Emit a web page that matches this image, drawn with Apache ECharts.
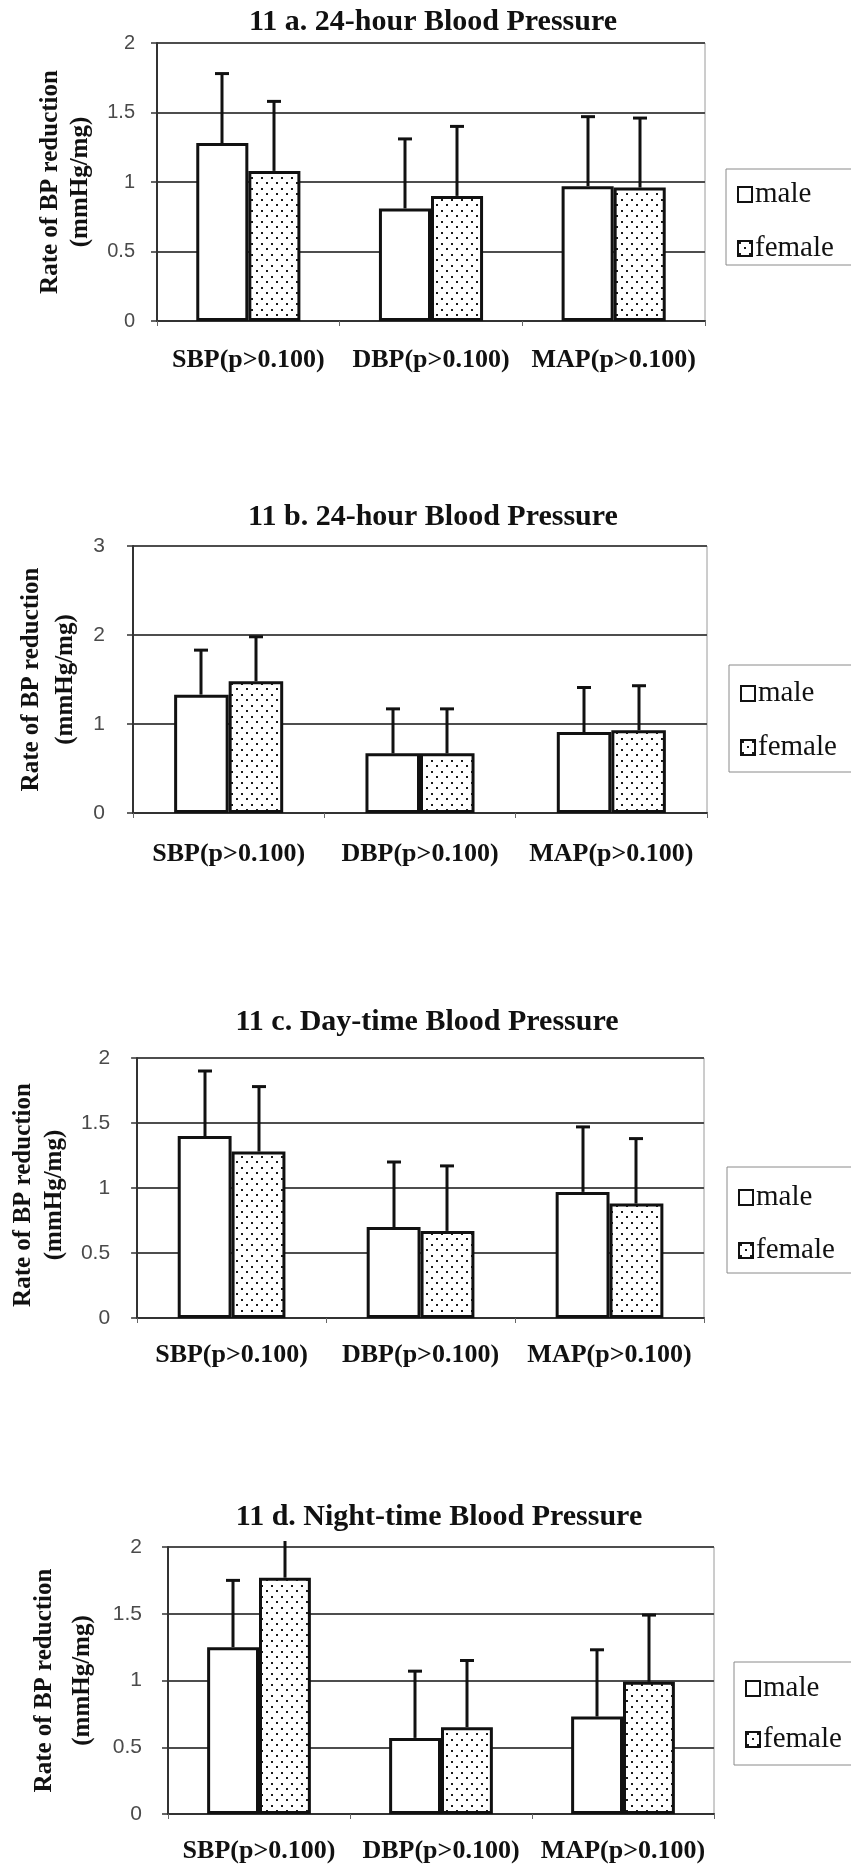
<!DOCTYPE html>
<html>
<head>
<meta charset="utf-8">
<script src="https://cdn.jsdelivr.net/npm/echarts@6/dist/echarts.min.js"></script>
<style>
  html, body { margin: 0; padding: 0; background: #fff; }
  #chart { width: 851px; height: 1865px; }
</style>
</head>
<body>
<div id="chart"></div>
<script>
// ---- data ----
const categories = ['SBP(p>0.100)', 'DBP(p>0.100)', 'MAP(p>0.100)'];
const groups = ['male', 'female'];
const panelTitles = [
  '11 a. 24-hour Blood Pressure',
  '11 b. 24-hour Blood Pressure',
  '11 c. Day-time Blood Pressure',
  '11 d. Night-time Blood Pressure'
];
const yAxisTitle = 'Rate of BP reduction\n(mmHg/mg)';

// 11 a. 24-hour
const maleA = [1.28, 0.81, 0.97];
const femaleA = [1.08, 0.90, 0.96];
const maleErrA = [0.5, 0.5, 0.5];
const femaleErrA = [0.5, 0.5, 0.5];
const yTicksA = [0, 0.5, 1, 1.5, 2];

// 11 b. 24-hour
const maleB = [1.33, 0.67, 0.91];
const femaleB = [1.48, 0.67, 0.93];
const maleErrB = [0.5, 0.5, 0.5];
const femaleErrB = [0.5, 0.5, 0.5];
const yTicksB = [0, 1, 2, 3];

// 11 c. Day-time
const maleC = [1.40, 0.70, 0.97];
const femaleC = [1.28, 0.67, 0.88];
const maleErrC = [0.5, 0.5, 0.5];
const femaleErrC = [0.5, 0.5, 0.5];
const yTicksC = [0, 0.5, 1, 1.5, 2];

// 11 d. Night-time
const maleD = [1.25, 0.57, 0.73];
const femaleD = [1.77, 0.65, 0.99];
const maleErrD = [0.5, 0.5, 0.5];
const femaleErrD = [0.5, 0.5, 0.5];
const yTicksD = [0, 0.5, 1, 1.5, 2];

const panels = [
  { male: maleA, female: femaleA, maleErr: maleErrA, femaleErr: femaleErrA, ticks: yTicksA },
  { male: maleB, female: femaleB, maleErr: maleErrB, femaleErr: femaleErrB, ticks: yTicksB },
  { male: maleC, female: femaleC, maleErr: maleErrC, femaleErr: femaleErrC, ticks: yTicksC },
  { male: maleD, female: femaleD, maleErr: maleErrD, femaleErr: femaleErrD, ticks: yTicksD }
];

// ---- layout (pixels) ----
const layout = [
  { grid: { left: 157, top: 43, width: 548, height: 278 }, titleX: 433, titleTop: 7,
    legend: { left: 726, top: 169, pad: [11, 40, 2, 11], gap: 25 },
    yName: { gap: 61, lh: 30, shift: 0 }, tickFont: 20, tickMargin: 22, catMargin: 26 },
  { grid: { left: 133, top: 546, width: 574, height: 267 }, titleX: 433, titleTop: 502,
    legend: { left: 729, top: 665, pad: [14, 40, 10, 11], gap: 25 },
    yName: { gap: 47, lh: 34, shift: 0 }, tickFont: 21, tickMargin: 28, catMargin: 28 },
  { grid: { left: 133, top: 1058, width: 571, height: 260 }, titleX: 427, titleTop: 1007,
    legend: { left: 727, top: 1167, pad: [16, 40, 8, 11], gap: 24 },
    yName: { gap: 49, lh: 31, shift: 14 }, tickFont: 21, tickMargin: 27, catMargin: 24 },
  { grid: { left: 168, top: 1547, width: 546, height: 267 }, titleX: 439, titleTop: 1502,
    legend: { left: 734, top: 1662, pad: [12, 40, 11, 11], gap: 22 },
    yName: { gap: 63, lh: 38, shift: 0 }, tickFont: 21, tickMargin: 26, catMargin: 24 }
];

const CAT_GAP = 0.43;   // share of each category left empty around the pair of bars
const ERR_OVERHANG = 6; // error whiskers may run this many pixels above the plot top

// stippled fill for the female bars
const tile = document.createElement('canvas');
tile.width = 10; tile.height = 11;
(function () {
  const ctx = tile.getContext('2d');
  ctx.fillStyle = '#ffffff';
  ctx.fillRect(0, 0, 10, 11);
  ctx.fillStyle = '#1a1a1a';
  ctx.fillRect(1, 1, 2, 2);
  ctx.fillRect(6, 6, 2, 2);
})();
const dotted = { image: tile, repeat: 'repeat' };

const serif = 'Liberation Serif, Times New Roman, serif';
const sans = 'Liberation Sans, Arial, sans-serif';

function errorBars(gi, values, errs, side) {
  return {
    type: 'custom',
    xAxisIndex: gi,
    yAxisIndex: gi,
    z: 5,
    silent: true,
    data: values.map((v, i) => [i, v, errs[i]]),
    renderItem(params, api) {
      const i = api.value(0);
      const v = api.value(1);
      const e = api.value(2);
      const base = api.coord([i, v]);
      const top = api.coord([i, v + e]);
      const band = api.size([1, 0])[0];
      const bw = band * (1 - CAT_GAP) / 2;
      const x = Math.round(base[0] + side * bw / 2);
      const limit = params.coordSys.y - ERR_OVERHANG;
      const yTop = Math.max(top[1], limit);
      const style = { stroke: '#111', lineWidth: 3 };
      const children = [
        { type: 'line', shape: { x1: x, y1: base[1], x2: x, y2: yTop }, style }
      ];
      if (top[1] >= limit) {
        children.push({ type: 'line', shape: { x1: x - 7, y1: yTop, x2: x + 7, y2: yTop }, style });
      }
      return { type: 'group', children };
    }
  };
}

const option = {
  animation: false,
  backgroundColor: '#ffffff',
  title: [], legend: [], grid: [], xAxis: [], yAxis: [], series: []
};

panels.forEach((p, gi) => {
  const L = layout[gi];
  option.title.push({
    text: panelTitles[gi],
    left: L.titleX,
    top: L.titleTop,
    textAlign: 'center',
    padding: 0,
    textStyle: { fontFamily: serif, fontWeight: 'bold', fontSize: 30, lineHeight: 30, color: '#111' }
  });
  option.legend.push({
    data: groups.map(name => ({ name, icon: 'rect' })),
    orient: 'vertical',
    left: L.legend.left,
    top: L.legend.top,
    padding: L.legend.pad,
    itemGap: L.legend.gap,
    itemWidth: 14,
    itemHeight: 15,
    itemStyle: { borderColor: '#111', borderWidth: 2 },
    borderColor: '#8a8a8a',
    borderWidth: 1,
    backgroundColor: '#fff',
    selectedMode: false,
    textStyle: { fontFamily: serif, fontSize: 29, lineHeight: 20, color: '#111', padding: [0, 0, 0, -2] }
  });
  option.grid.push({
    left: L.grid.left, top: L.grid.top, width: L.grid.width, height: L.grid.height,
    show: true, borderColor: '#9a9a9a', borderWidth: 1
  });
  option.xAxis.push({
    type: 'category',
    gridIndex: gi,
    data: categories,
    axisLine: { lineStyle: { color: '#333', width: 2 } },
    axisTick: { show: true, length: 5, lineStyle: { color: '#666', width: 1 } },
    axisLabel: { interval: 0, margin: L.catMargin, fontFamily: serif, fontWeight: 'bold', fontSize: 26, lineHeight: 26, color: '#111' }
  });
  const t = p.ticks;
  option.yAxis.push({
    type: 'value',
    gridIndex: gi,
    min: t[0],
    max: t[t.length - 1],
    interval: t[1] - t[0],
    name: yAxisTitle,
    nameLocation: 'middle',
    nameRotate: 90,
    nameGap: L.yName.gap,
    nameTextStyle: {
      fontFamily: serif, fontWeight: 'bold', fontSize: 25, lineHeight: L.yName.lh, color: '#111',
      padding: [0, L.yName.shift, 0, 0]
    },
    axisLine: { show: true, lineStyle: { color: '#333', width: 2 } },
    axisTick: { show: true, length: 6, lineStyle: { color: '#333', width: 1.5 } },
    axisLabel: { margin: L.tickMargin, fontFamily: sans, fontSize: L.tickFont, color: '#4a4a4a' },
    splitLine: { show: true, lineStyle: { color: '#4d4d4d', width: 2 } }
  });
  option.series.push({
    name: 'male', type: 'bar', xAxisIndex: gi, yAxisIndex: gi,
    data: p.male, barGap: '0%', barCategoryGap: (CAT_GAP * 100) + '%',
    itemStyle: { color: '#ffffff', borderColor: '#111', borderWidth: 3 },
    emphasis: { disabled: true }
  });
  option.series.push({
    name: 'female', type: 'bar', xAxisIndex: gi, yAxisIndex: gi,
    data: p.female, barGap: '0%', barCategoryGap: (CAT_GAP * 100) + '%',
    itemStyle: { color: dotted, borderColor: '#111', borderWidth: 3 },
    emphasis: { disabled: true }
  });
  option.series.push(errorBars(gi, p.male, p.maleErr, -1));
  option.series.push(errorBars(gi, p.female, p.femaleErr, 1));
});

const chart = echarts.init(document.getElementById('chart'), null, { renderer: 'canvas' });
chart.setOption(option);
</script>
</body>
</html>
